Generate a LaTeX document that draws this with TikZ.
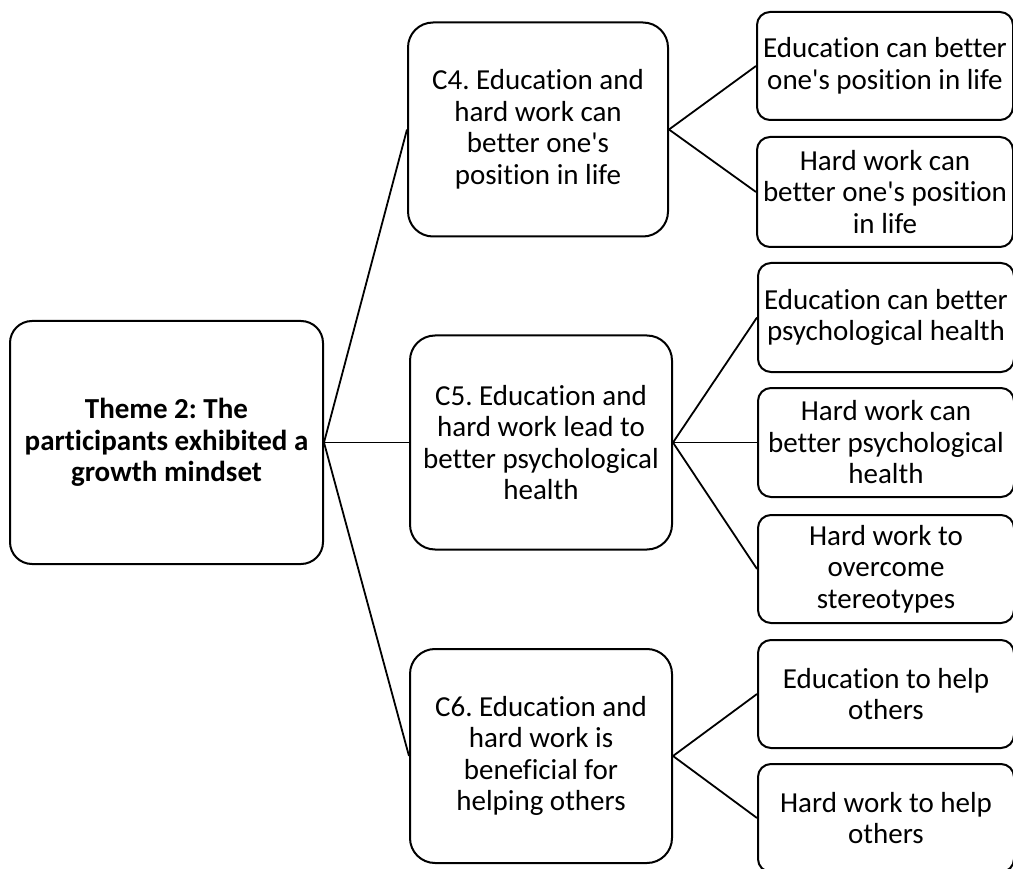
\documentclass[tikz,border=0pt]{standalone}
\usepackage{fontspec}
\setmainfont{Carlito}[Ligatures=NoCommon]
\newcommand{\apos}{\textquotesingle}
\frenchspacing
\begin{document}
\begin{tikzpicture}[x=1pt,y=-1pt,
  box/.style={draw=black, line width=2pt, fill=white, align=center, inner sep=0pt,
    font=\fontsize{29}{31.5}\selectfont},
  rootbox/.style={box, rounded corners=22pt, minimum width=313pt, minimum height=243pt,
    font=\bfseries\fontsize{29}{31.5}\selectfont},
  midbox/.style={box, rounded corners=25pt, minimum width=262pt, minimum height=214pt},
  leafbox/.style={box, rounded corners=13pt, minimum width=256pt, minimum height=108pt},
  link/.style={draw=black, line width=1.8pt}]
\useasboundingbox (0,0) rectangle (1013,869);

% theme node
\node[rootbox] (root) at (166.5,442.5) {Theme 2: The\\participants exhibited a\\growth mindset};

% category nodes
\node[midbox, minimum width=260pt] (c4) at (538,129.5) {C4. Education and\\hard work can\\better one\apos s\\position in life};
\node[midbox] (c5) at (541,442.5) {C5. Education and\\hard work lead to\\better psychological\\health};
\node[midbox] (c6) at (541,756) {C6. Education and\\hard work is\\beneficial for\\helping others};

% code nodes
\node[leafbox] (r1) at (885,66) {Education can better\\one\apos s position in life};
\node[leafbox, minimum height=110pt] (r2) at (885,192) {Hard work can\\better one\apos s position\\in life};
\node[leafbox, minimum height=109pt] (r3) at (886,317.5) {Education can better\\psychological health};
\node[leafbox, minimum height=109pt] (r4) at (886,442.5) {Hard work can\\better psychological\\health};
\node[leafbox] (r5) at (886,569) {Hard work to\\overcome\\stereotypes};
\node[leafbox] (r6) at (886,694) {Education to help\\others};
\node[leafbox] (r7) at (886,818) {Hard work to help\\others};

% connectors
\draw[link] (root.east) -- (c4.west);
\draw[link] (root.east) -- (c5.west);
\draw[link] (root.east) -- (c6.west);
\draw[link] (c4.east) -- (r1.west);
\draw[link] (c4.east) -- (r2.west);
\draw[link] (c5.east) -- (r3.west);
\draw[link] (c5.east) -- (r4.west);
\draw[link] (c5.east) -- (r5.west);
\draw[link] (c6.east) -- (r6.west);
\draw[link] (c6.east) -- (r7.west);
\end{tikzpicture}
\end{document}
